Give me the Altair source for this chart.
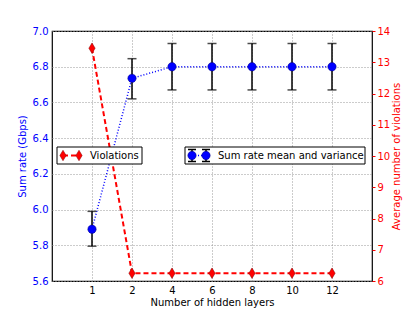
import altair as alt
import pandas as pd

layers = [1, 2, 4, 6, 8, 10, 12]
sum_rate = [5.89, 6.735, 6.80, 6.80, 6.80, 6.80, 6.80]
sum_lo = [5.795, 6.62, 6.67, 6.67, 6.67, 6.67, 6.67]
sum_hi = [5.99, 6.845, 6.93, 6.93, 6.93, 6.93, 6.93]
violations = [13.45, 6.25, 6.25, 6.25, 6.25, 6.25, 6.25]

df = pd.DataFrame({"layers": layers, "rate": sum_rate, "lo": sum_lo,
                   "hi": sum_hi, "viol": violations})

FONT = "DejaVu Sans"
BLUE = "#0000ff"
RED = "#ff0000"

x = alt.X("layers:O", scale=alt.Scale(type="point", padding=1),
          axis=alt.Axis(title="Number of hidden layers", labelAngle=0,
                        grid=True, gridColor="#999999", gridDash=[1, 2],
                        ticks=False, domain=False, labelPadding=4,
                        titlePadding=2, titleFontWeight="normal"))

yl_scale = alt.Scale(domain=[5.6, 7.0], nice=False, zero=False)
yl_axis = alt.Axis(title="Sum rate (Gbps)", values=[5.6, 5.8, 6.0, 6.2, 6.4, 6.6, 6.8, 7.0],
                   format=".1f", labelColor=BLUE, titleColor=BLUE, grid=True,
                   gridColor="#999999", gridDash=[1, 2], ticks=False, domain=False,
                   labelPadding=4, titlePadding=5, titleFontWeight="normal")
yr_scale = alt.Scale(domain=[6, 14], nice=False, zero=False)
yr_axis = alt.Axis(title="Average number of violations", orient="right",
                   values=list(range(6, 15)), labelColor=RED, titleColor=RED,
                   grid=False, tickColor=RED, tickSize=3, domain=False,
                   labelPadding=2, titlePadding=12, titleAngle=270,
                   titleFontWeight="normal")

base = alt.Chart(df)
left_line = base.mark_line(color=BLUE, strokeDash=[1, 2], strokeWidth=1.5).encode(
    x=x, y=alt.Y("rate:Q", scale=yl_scale, axis=yl_axis))
err = base.mark_rule(color="black", strokeWidth=1.5).encode(
    x=x, y=alt.Y("lo:Q", scale=yl_scale, axis=yl_axis), y2="hi:Q")
cap_lo = base.mark_tick(color="black", orient="horizontal", size=9, thickness=1.5).encode(
    x=x, y=alt.Y("lo:Q", scale=yl_scale, axis=yl_axis))
cap_hi = base.mark_tick(color="black", orient="horizontal", size=9, thickness=1.5).encode(
    x=x, y=alt.Y("hi:Q", scale=yl_scale, axis=yl_axis))
pts = base.mark_point(shape="circle", filled=True, color=BLUE, size=70, opacity=1,
                      stroke="#000080", strokeWidth=0.5).encode(
    x=x, y=alt.Y("rate:Q", scale=yl_scale, axis=yl_axis))
left = alt.layer(left_line, err, cap_lo, cap_hi, pts)

DIAMOND = "M0,-1L0.6,0L0,1L-0.6,0Z"
r_line = base.mark_line(color=RED, strokeDash=[5, 3], strokeWidth=2).encode(
    x=x, y=alt.Y("viol:Q", scale=yr_scale, axis=yr_axis))
r_pts = base.mark_point(shape=DIAMOND, filled=True, color=RED, size=110, opacity=1,
                        stroke="#800000", strokeWidth=0.5).encode(
    x=x, y=alt.Y("viol:Q", scale=yr_scale, axis=yr_axis))
right = alt.layer(r_line, r_pts)

# legends (drawn manually inside the plot)
dummy = alt.Chart(pd.DataFrame({"a": [0]}))
LY = 124.5
leg = [
    dummy.mark_rect(fill="white", stroke="black", strokeWidth=1).encode(
        x=alt.value(5), x2=alt.value(90), y=alt.value(116), y2=alt.value(133)),
    dummy.mark_rule(color=RED, strokeDash=[5, 3], strokeWidth=2).encode(
        x=alt.value(11), x2=alt.value(27), y=alt.value(LY)),
    dummy.mark_point(shape=DIAMOND, filled=True, color=RED, size=110, opacity=1,
                     stroke="#800000", strokeWidth=0.5).encode(x=alt.value(11), y=alt.value(LY)),
    dummy.mark_point(shape=DIAMOND, filled=True, color=RED, size=110, opacity=1,
                     stroke="#800000", strokeWidth=0.5).encode(x=alt.value(27), y=alt.value(LY)),
    dummy.mark_text(text="Violations", align="left", baseline="middle", font=FONT,
                    fontSize=10, color="black").encode(x=alt.value(38), y=alt.value(LY)),
    dummy.mark_rect(fill="white", stroke="black", strokeWidth=1).encode(
        x=alt.value(133), x2=alt.value(313), y=alt.value(116), y2=alt.value(133)),
    dummy.mark_rule(color=BLUE, strokeDash=[1, 2], strokeWidth=1.5).encode(
        x=alt.value(140), x2=alt.value(154), y=alt.value(LY)),
]
for lx in (140, 154):
    leg += [
        dummy.mark_rule(color="black", strokeWidth=1.5).encode(
            x=alt.value(lx), y=alt.value(LY - 6), y2=alt.value(LY + 6)),
        dummy.mark_rule(color="black", strokeWidth=1.5).encode(
            x=alt.value(lx - 4), x2=alt.value(lx + 4), y=alt.value(LY - 6)),
        dummy.mark_rule(color="black", strokeWidth=1.5).encode(
            x=alt.value(lx - 4), x2=alt.value(lx + 4), y=alt.value(LY + 6)),
        dummy.mark_point(shape="circle", filled=True, color=BLUE, size=70, opacity=1,
                         stroke="#000080", strokeWidth=0.5).encode(x=alt.value(lx), y=alt.value(LY)),
    ]
leg.append(dummy.mark_text(text="Sum rate mean and variance", align="left", baseline="middle",
                           font=FONT, fontSize=10, color="black").encode(
    x=alt.value(166), y=alt.value(LY)))

chart = alt.layer(left, right, *leg).resolve_scale(y="independent").properties(
    width=320, height=250,
    autosize=alt.AutoSizeParams(type="none"),
    padding={"left": 44, "top": 23, "right": 35, "bottom": 32},
).configure(background="white").configure_view(
    stroke="black", strokeWidth=1.2
).configure_axis(
    labelFont=FONT, titleFont=FONT, labelFontSize=10, titleFontSize=10,
    titleFontWeight="normal"
)

chart.save("out.html", embed_options={"renderer": "svg", "actions": False})
